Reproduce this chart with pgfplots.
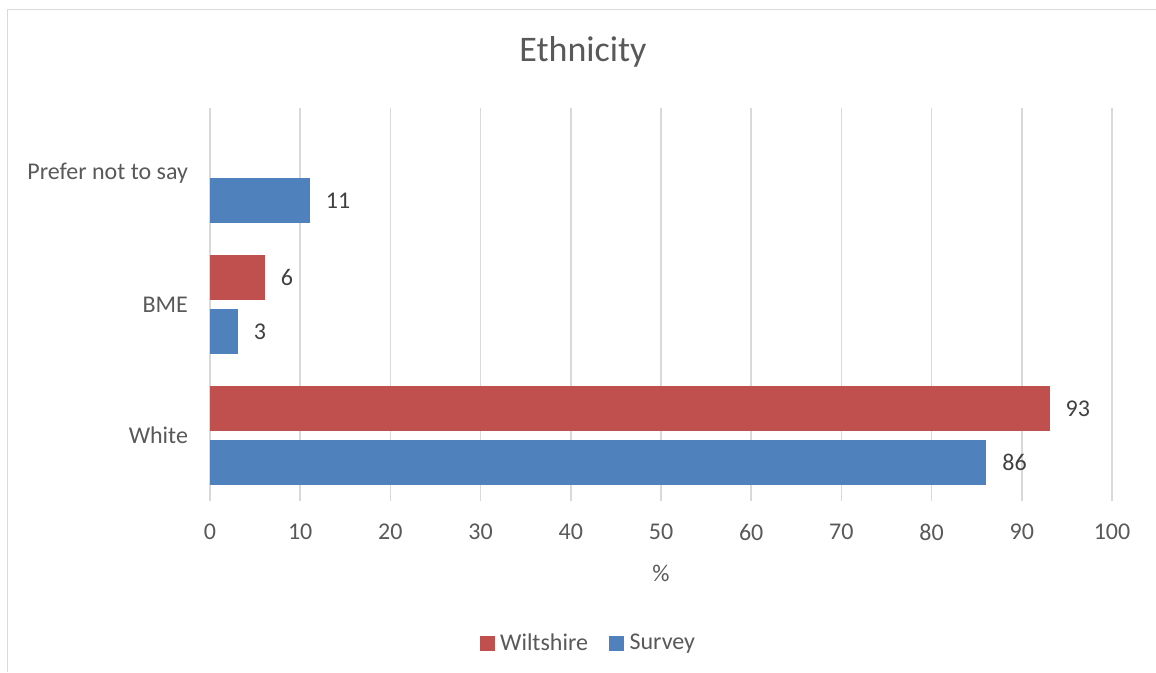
\documentclass[border=0pt]{standalone}
\usepackage{pgfplots}
\pgfplotsset{compat=1.18}
\usepackage{fontspec}
\setmainfont{Carlito}
\definecolor{wilt}{HTML}{C0504D}
\definecolor{surv}{HTML}{4F81BD}
\definecolor{gridc}{HTML}{D9D9D9}
\definecolor{txt}{HTML}{595959}
\definecolor{lbl}{HTML}{404040}
\newcommand{\tf}{\fontsize{18}{21.6}\selectfont}
\begin{document}
\begin{tikzpicture}
\useasboundingbox (0,0) rectangle (867pt,-504pt);
\draw[gridc, line width=1pt] (5.6pt,-504pt) -- (5.6pt,-7pt) -- (867pt,-7pt);
\node[font=\fontsize{27}{32}\selectfont, text=txt] at (437.25pt,-39pt) {Ethnicity};
\begin{axis}[
 at={(157.5pt,-375.75pt)}, anchor=south west,
 scale only axis, width=676.5pt, height=294.75pt,
 xbar, bar width=33pt,
 xmin=0, xmax=100, ymin=-0.5, ymax=2.5,
 xtick={0,10,...,100}, ytick={0,1,2},
 yticklabels={White,BME,Prefer not to say},
 axis line style={draw=none},
 major tick length=0pt,
 xmajorgrids, ymajorgrids=false,
 grid style={gridc, line width=1.3pt},
 tick label style={font=\tf, text=txt},
 xticklabel style={anchor=center, yshift=-23.25pt},
 yticklabel style={anchor=east, xshift=-13pt},
 xlabel={\%},
 xlabel style={font=\tf, text=txt, at={(axis description cs:0.5,0)}, anchor=center, yshift=-54pt},
 /pgf/number format/assume math mode=true,
 nodes near coords,
 every node near coord/.append style={font=\tf, text=lbl, anchor=west, xshift=9pt},
 legend style={at={(0.42,-0.361)}, anchor=center, draw=none, legend columns=2, font=\tf, text=txt,
   /tikz/every even column/.append style={column sep=14pt}},
 legend image code/.code={\draw[#1] (0pt,-5.25pt) rectangle (10.5pt,5.25pt); \path (12.75pt,0pt);},
]
\addplot[fill=wilt, draw=wilt, bar shift=20.25pt] coordinates {(93,0) (6,1)};
\addplot[fill=surv, draw=surv, bar shift=-20.25pt] coordinates {(86,0) (3,1) (11,2)};
\legend{Wiltshire,Survey}
\end{axis}
\end{tikzpicture}
\end{document}
